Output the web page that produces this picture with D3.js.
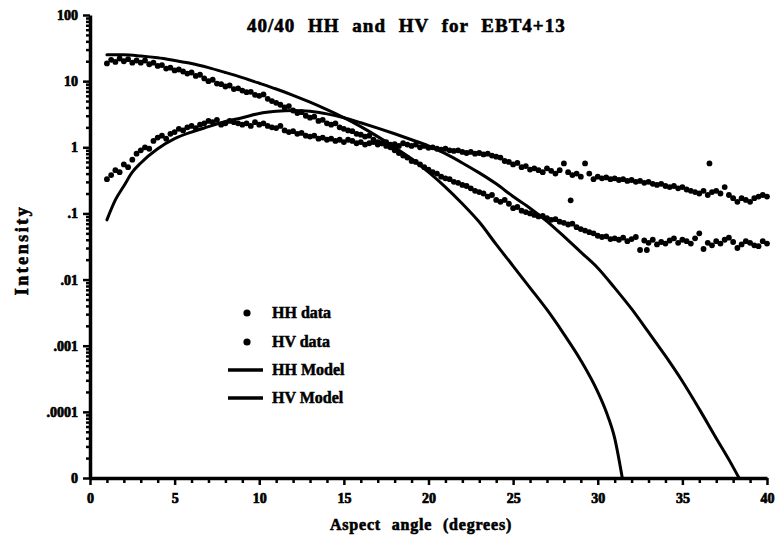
<!DOCTYPE html>
<html>
<head>
<meta charset="utf-8">
<script src="https://cdn.jsdelivr.net/npm/d3@7/dist/d3.min.js"></script>
<style>
  html, body { margin: 0; padding: 0; background: #fff; }
  svg { display: block; }
  text { font-family: "Liberation Serif", "Times New Roman", serif; font-weight: bold; fill: #000; }
</style>
</head>
<body>
<svg id="chart" width="784" height="553"></svg>
<script>
// ---------------- DATA ----------------
const title = "40/40 HH and HV for EBT4+13";
const xTitle = "Aspect angle (degrees)";
const yTitle = "Intensity";

const xTicksMajor = [0, 5, 10, 15, 20, 25, 30, 35, 40];
const yTickValues = [1e-5, 1e-4, 1e-3, 1e-2, 1e-1, 1, 10, 100];
const yTickLabels = ["0", ".0001", ".001", ".01", ".1", "1", "10", "100"];

// measured data are sampled every 0.25 degrees starting at 1 degree
const dataStartAngle = 1;
const dataStepAngle = 0.25;

const hhData = [
  18.5, 21, 19.5, 22, 20, 21.5, 19, 20.5,
  19, 20.5, 18, 19, 17, 17.5, 15.5, 16,
  14.5, 15, 14, 13, 13.5, 12, 12.5, 11,
  10, 10.5, 9.2, 9, 8.3, 8.6, 7.6, 7.8,
  7.2, 6.8, 6.9, 6.2, 6.0, 6.3, 5.4, 5.0,
  4.7, 4.4, 4.0, 4.2, 3.6, 3.3, 3.4, 3.0,
  2.8, 2.9, 2.5, 2.6, 2.3, 2.2, 2.3, 2.0,
  1.9, 1.8, 1.75, 1.6, 1.55, 1.45, 1.5, 1.3,
  1.2, 1.15, 1.05, 1.0, 0.9, 0.82, 0.75, 0.7,
  0.62, 0.6, 0.55, 0.5, 0.46, 0.42, 0.4, 0.36,
  0.34, 0.33, 0.3, 0.29, 0.27, 0.26, 0.24, 0.22,
  0.21, 0.2, 0.18, 0.19, 0.16, 0.15, 0.16, 0.14,
  0.12, 0.125, 0.11, 0.105, 0.1, 0.095, 0.09, 0.092,
  0.085, 0.08, 0.082, 0.075, 0.072, 0.068, 0.07, 0.062,
  0.058, 0.055, 0.052, 0.05, 0.046, 0.044, 0.045, 0.041,
  0.042, 0.04, 0.043, 0.038, 0.041, 0.044, 0.028, 0.039,
  0.036, 0.04, 0.034, 0.037, 0.035, 0.039, 0.042, 0.036,
  0.04, 0.038, 0.035, 0.042, 0.05, 0.029, 0.036, 0.033,
  0.038, 0.035, 0.04, 0.043, 0.037, 0.03, 0.034, 0.038,
  0.036, 0.033, 0.032, 0.038, 0.035
];
const hvData = [
  0.33, 0.38, 0.45, 0.42, 0.55, 0.5, 0.65, 0.8,
  0.9, 1.0, 0.95, 1.25, 1.4, 1.5, 1.35, 1.6,
  1.7, 1.9, 1.8, 2.0, 2.1, 1.95, 2.2, 2.3,
  2.5, 2.4, 2.6, 2.2, 2.3, 2.5, 2.4, 2.3,
  2.2, 2.3, 2.1, 2.4, 2.2, 2.3, 2.1, 2.0,
  1.95, 2.1, 1.8, 1.7, 1.75, 1.6, 1.65, 1.5,
  1.45, 1.5, 1.35, 1.4, 1.3, 1.35, 1.25, 1.3,
  1.2, 1.3, 1.25, 1.15, 1.2, 1.1, 1.15, 1.2,
  1.1, 1.15, 1.2, 1.1, 1.12, 1.05, 1.15, 1.1,
  1.05, 1.1, 1.0, 1.05, 0.98, 1.0, 0.95, 0.92,
  0.95, 0.9, 0.88, 0.9, 0.85, 0.82, 0.85, 0.8,
  0.82, 0.78, 0.8, 0.75, 0.72, 0.7, 0.62, 0.6,
  0.55, 0.58, 0.5, 0.52, 0.46, 0.48, 0.45, 0.42,
  0.48, 0.44, 0.4, 0.45, 0.57, 0.42, 0.38, 0.4,
  0.36, 0.57, 0.4, 0.33, 0.36, 0.34, 0.35, 0.33,
  0.34, 0.32, 0.33, 0.31, 0.32, 0.3, 0.31, 0.29,
  0.3, 0.28, 0.27, 0.28, 0.26, 0.25, 0.26, 0.24,
  0.25, 0.23, 0.22, 0.21, 0.2, 0.22, 0.19, 0.21,
  0.22, 0.2, 0.25, 0.19, 0.17, 0.15, 0.17, 0.16,
  0.15, 0.17, 0.18, 0.19, 0.18
];
// isolated points
const hhExtra = [[28.4, 0.158], [32.9, 0.028]];
const hvExtra = [[36.6, 0.57]];

// model curves [angle, intensity]
const hhModel = [
  [1, 25], [2, 25], [3, 24], [4, 22.5], [5, 20.5], [6, 18.5], [7, 16], [8, 13.5],
  [9, 11.3], [10, 9.3], [11, 7.6], [12, 6.1], [13, 4.8], [14, 3.7], [15, 2.8],
  [16, 2.05], [17, 1.45], [18, 1.0], [19, 0.67], [20, 0.42], [21, 0.25], [22, 0.14],
  [23, 0.074], [24, 0.034], [25, 0.016], [26, 0.0075], [27, 0.0035], [28, 0.0015],
  [29, 0.0006], [30, 0.0002], [30.5, 0.0001], [31, 0.00004], [31.45, 0.00001]
];
const hvModel = [
  [1, 0.08], [1.5, 0.16], [2, 0.26], [2.5, 0.42], [3, 0.58], [4, 0.95], [5, 1.35],
  [6, 1.7], [7, 2.05], [8, 2.45], [9, 2.8], [10, 3.25], [11, 3.5], [12, 3.6],
  [13, 3.5], [14, 3.2], [15, 2.8], [16, 2.35], [17, 1.95], [18, 1.6], [19, 1.3],
  [20, 1.05], [21, 0.8], [22, 0.58], [23, 0.41], [24, 0.28], [25, 0.18], [26, 0.12],
  [27, 0.076], [28, 0.045], [29, 0.026], [30, 0.015], [31, 0.0075], [32, 0.0036],
  [33, 0.0016], [34, 0.0007], [35, 0.00029], [36, 0.00011], [37, 0.00004],
  [37.8, 0.000018], [38.35, 0.00001]
];

const legendItems = [
  { label: "HH data", type: "dot" },
  { label: "HV data", type: "dot" },
  { label: "HH Model", type: "line" },
  { label: "HV Model", type: "line" }
];

// ---------------- CHART ----------------
const serif = "Liberation Serif";
const svg = d3.select("#chart");
const plotLeft = 90, plotRight = 767, plotTop = 15, plotBottom = 478;

const x = d3.scaleLinear().domain([0, 40]).range([plotLeft, plotRight]);
const y = d3.scaleLog().domain([1e-5, 100]).range([plotBottom, plotTop]);

const toPoints = arr => arr.map((v, i) => [dataStartAngle + i * dataStepAngle, v]);
const hhPts = toPoints(hhData).concat(hhExtra);
const hvPts = toPoints(hvData).concat(hvExtra);

// minor ticks
const yMinor = [];
for (let e = -5; e < 2; e++) for (let m = 2; m <= 9; m++) yMinor.push(m * Math.pow(10, e));
const xMinor = d3.range(0, 41).filter(v => v % 5 !== 0);

// model lines
const line = d3.line().x(d => x(d[0])).y(d => y(d[1])).curve(d3.curveMonotoneX);
[hhModel, hvModel].forEach(m => {
  svg.append("path").datum(m).attr("d", line)
    .attr("fill", "none").attr("stroke", "#000").attr("stroke-width", 3)
    .attr("stroke-linejoin", "round").attr("stroke-linecap", "round");
});

// data dots
[hhPts, hvPts].forEach(pts => {
  svg.append("g").selectAll("circle").data(pts).join("circle")
    .attr("cx", d => x(d[0])).attr("cy", d => y(d[1])).attr("r", 2.9).attr("fill", "#000");
});

// axes
const axes = svg.append("g");
axes.append("g").attr("transform", `translate(${plotLeft},0)`)
  .call(d3.axisLeft(y).tickValues(yTickValues).tickFormat((d, i) => yTickLabels[i])
    .tickSize(7).tickSizeOuter(0).tickPadding(5));
axes.append("g").attr("transform", `translate(${plotLeft},0)`)
  .call(d3.axisLeft(y).tickValues(yMinor).tickFormat("").tickSize(4).tickSizeOuter(0))
  .select(".domain").remove();

axes.append("g").attr("transform", `translate(0,${plotBottom})`)
  .call(d3.axisBottom(x).tickValues(xTicksMajor).tickFormat(d3.format("d"))
    .tickSize(7).tickSizeOuter(0).tickPadding(8));
axes.append("g").attr("transform", `translate(0,${plotBottom})`)
  .call(d3.axisBottom(x).tickValues(xMinor).tickFormat("").tickSize(5).tickSizeOuter(0))
  .select(".domain").remove();

axes.selectAll("g").attr("font-family", serif).attr("font-size", 14).attr("font-weight", "bold");
axes.selectAll(".domain").attr("stroke", "#000").attr("stroke-width", 3.5);
axes.selectAll(".tick line").attr("stroke", "#000").attr("stroke-width", 2.5);
axes.selectAll(".tick text")
  .attr("font-family", serif).attr("font-size", 14).attr("font-weight", "bold")
  .attr("stroke", "#000").attr("stroke-width", 0.7);

// titles
svg.append("text").attr("x", 247).attr("y", 32).attr("text-anchor", "start")
  .style("font-size", "19px").style("letter-spacing", "1px").style("word-spacing", "7px")
  .attr("stroke", "#000").attr("stroke-width", 0.6)
  .text(title);

svg.append("text").attr("x", 421).attr("y", 530).attr("text-anchor", "middle")
  .style("font-size", "16px").style("letter-spacing", "0.8px").style("word-spacing", "6px")
  .attr("stroke", "#000").attr("stroke-width", 0.6)
  .text(xTitle);

svg.append("text").attr("transform", "translate(28,250) rotate(-90)").attr("text-anchor", "middle")
  .style("font-size", "18px").style("letter-spacing", "2.5px")
  .attr("stroke", "#000").attr("stroke-width", 0.6)
  .text(yTitle);

// legend
const legY = [313, 342, 370, 398];
const leg = svg.append("g");
legendItems.forEach((it, i) => {
  const cy = legY[i];
  if (it.type === "dot") {
    leg.append("circle").attr("cx", 247).attr("cy", cy).attr("r", 3.6).attr("fill", "#000");
  } else {
    leg.append("line").attr("x1", 228).attr("x2", 263).attr("y1", cy).attr("y2", cy)
      .attr("stroke", "#000").attr("stroke-width", 3.5);
  }
  leg.append("text").attr("x", 272).attr("y", cy + 5).style("font-size", "16px")
    .attr("stroke", "#000").attr("stroke-width", 0.5)
    .text(it.label);
});
</script>
</body>
</html>
